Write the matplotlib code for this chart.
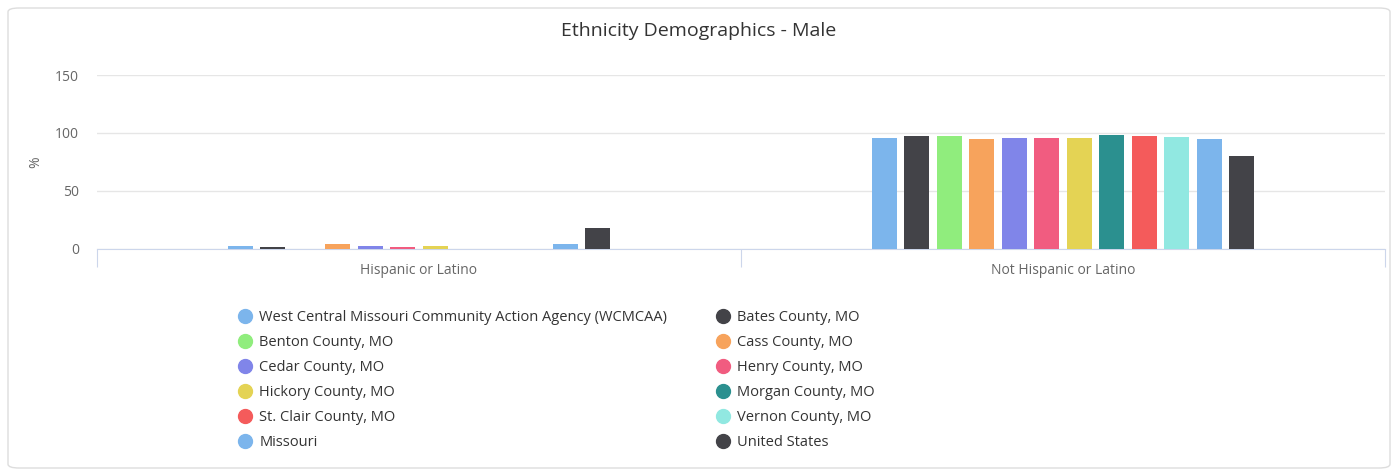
import numpy as np
import matplotlib
matplotlib.use("Agg")
import matplotlib.pyplot as plt
from matplotlib.patches import FancyBboxPatch
from matplotlib.lines import Line2D

plt.rcParams['font.family'] = ['Open Sans', 'DejaVu Sans']

CATEGORIES = ["Hispanic or Latino", "Not Hispanic or Latino"]
SERIES = [
    "West Central Missouri Community Action Agency (WCMCAA)", "Bates County, MO",
    "Benton County, MO", "Cass County, MO", "Cedar County, MO", "Henry County, MO",
    "Hickory County, MO", "Morgan County, MO", "St. Clair County, MO",
    "Vernon County, MO", "Missouri", "United States",
]
COLORS = [
    "#7cb5ec", "#434348", "#90ed7d", "#f7a35c", "#8085e9", "#f15c80",
    "#e4d354", "#2b908f", "#f45b5b", "#91e8e1", "#7cb5ec", "#434348",
]
HISPANIC = [2.6, 1.3, 0, 4.0, 2.6, 1.3, 2.6, 0, 0, 0, 4.0, 18.4]
NOT_HISPANIC = [95.7, 97.2, 97.0, 94.4, 95.7, 95.7, 95.7, 98.3, 97.2, 96.8, 94.4, 80.0]

fig = plt.figure(figsize=(13.97, 4.76), dpi=100)
fig.patches.append(FancyBboxPatch((8 / 1397, 8 / 476), 1382 / 1397, 460 / 476,
                                  boxstyle="round,pad=0,rounding_size=0.008",
                                  transform=fig.transFigure, fill=False,
                                  edgecolor="#dddddd", linewidth=1))
ax = fig.add_axes([97 / 1397, 1 - 249 / 476, 1288 / 1397, 174 / 476])

x = np.arange(len(CATEGORIES))
pitch = 0.0504
width = 0.0388
for i, name in enumerate(SERIES):
    vals = [HISPANIC[i], NOT_HISPANIC[i]]
    ax.bar(x + (i - 5.5) * pitch, vals, width, color=COLORS[i], label=name, zorder=3)

ax.set_xlim(-0.5, 1.5)
ax.set_ylim(0, 150)
ax.set_yticks([0, 50, 100, 150])
ax.yaxis.grid(True, color="#e6e6e6", linewidth=1, zorder=0)
for s in ["top", "right", "left"]:
    ax.spines[s].set_visible(False)
ax.spines["bottom"].set_color("#ccd6eb")
ax.tick_params(axis="y", length=0, labelsize=10, labelcolor="#666666", pad=13)
ax.set_xticks([-0.5, 0.5, 1.5])
ax.set_xticklabels([])
ax.tick_params(axis="x", which="major", length=13, color="#ccd6eb")
ax.set_xticks(x, minor=True)
ax.set_xticklabels(CATEGORIES, minor=True)
ax.tick_params(axis="x", which="minor", length=0, labelsize=10, labelcolor="#666666", pad=10)
ax.set_ylabel("%", fontsize=10, color="#666666")
ax.yaxis.set_label_coords(-0.042, 0.5)

fig.text(0.5, 1 - 31 / 476, "Ethnicity Demographics - Male", ha="center", va="center",
         fontsize=14, color="#333333")

handles = [Line2D([], [], marker="o", linestyle="", markersize=10,
                  markerfacecolor=c, markeredgecolor=c) for c in COLORS]
order = [0, 2, 4, 6, 8, 10, 1, 3, 5, 7, 9, 11]
fig.legend([handles[k] for k in order], [SERIES[k] for k in order], ncol=2,
           loc="upper left", bbox_to_anchor=(230 / 1397, 1 - 303 / 476),
           frameon=False, fontsize=10.5, labelcolor="#333333", handletextpad=0.5,
           handlelength=1.0, columnspacing=3.3, labelspacing=0.68, borderpad=0)

fig.savefig("out.png", dpi=100)
